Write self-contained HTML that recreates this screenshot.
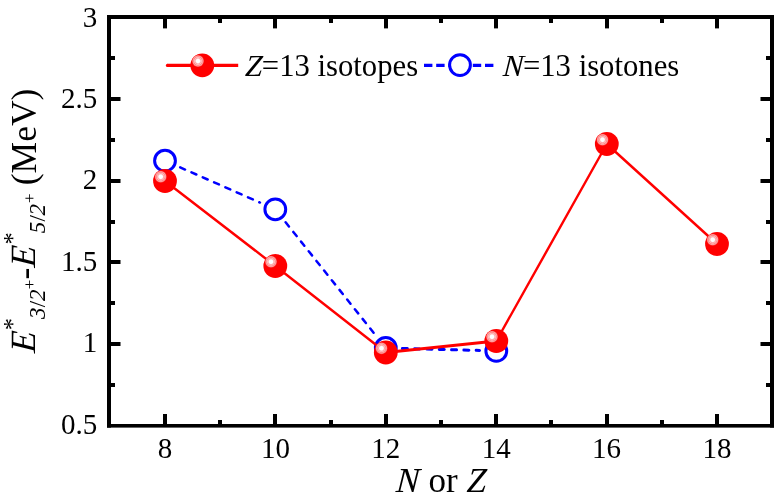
<!DOCTYPE html>
<html><head><meta charset="utf-8"><title>chart</title>
<style>html,body{margin:0;padding:0;background:#fff}body{width:780px;height:502px;overflow:hidden}svg{display:block}text{font-family:"Liberation Serif",serif;fill:#000}.i{font-style:italic}</style>
</head><body>
<svg width="780" height="502" viewBox="0 0 780 502">
<defs><radialGradient id="hl" cx="0.5" cy="0.5" r="0.5"><stop offset="0" stop-color="#fff"/><stop offset="0.3" stop-color="#fff"/><stop offset="0.4" stop-color="#ffd0d0"/><stop offset="0.5" stop-color="#ffa4a4"/><stop offset="0.6" stop-color="#ffbcbc"/><stop offset="0.72" stop-color="#ff8888"/><stop offset="0.82" stop-color="#ffa4a4"/><stop offset="0.92" stop-color="#ff6c6c"/><stop offset="1" stop-color="#ff3c3c"/></radialGradient></defs>
<rect width="780" height="502" fill="#fff"/>
<g fill="#000" shape-rendering="crispEdges">
<rect x="107" y="15" width="667" height="4"/>
</g>
<g fill="#000">
<rect x="107" y="15" width="4" height="412.6"/>
<rect x="770" y="15" width="4" height="412.6"/>
<rect x="107" y="424" width="667" height="3.6"/>
<rect x="163" y="19" width="4" height="9.4"/>
<rect x="163" y="414" width="4" height="10"/>
<rect x="218" y="19" width="4" height="4"/>
<rect x="218" y="420" width="4" height="4"/>
<rect x="273" y="19" width="4" height="9.4"/>
<rect x="273" y="414" width="4" height="10"/>
<rect x="329" y="19" width="4" height="4"/>
<rect x="329" y="420" width="4" height="4"/>
<rect x="384" y="19" width="4" height="9.4"/>
<rect x="384" y="414" width="4" height="10"/>
<rect x="439" y="19" width="4" height="4"/>
<rect x="439" y="420" width="4" height="4"/>
<rect x="494" y="19" width="4" height="9.4"/>
<rect x="494" y="414" width="4" height="10"/>
<rect x="549" y="19" width="4" height="4"/>
<rect x="549" y="420" width="4" height="4"/>
<rect x="605" y="19" width="4" height="9.4"/>
<rect x="605" y="414" width="4" height="10"/>
<rect x="660" y="19" width="4" height="4"/>
<rect x="660" y="420" width="4" height="4"/>
<rect x="715" y="19" width="4" height="9.4"/>
<rect x="715" y="414" width="4" height="10"/>
<rect x="111" y="383" width="4" height="4"/>
<rect x="766" y="383" width="4" height="4"/>
<rect x="111" y="342" width="9.5" height="4"/>
<rect x="760.5" y="342" width="9.5" height="4"/>
<rect x="111" y="301" width="4" height="4"/>
<rect x="766" y="301" width="4" height="4"/>
<rect x="111" y="260" width="9.5" height="4"/>
<rect x="760.5" y="260" width="9.5" height="4"/>
<rect x="111" y="220" width="4" height="4"/>
<rect x="766" y="220" width="4" height="4"/>
<rect x="111" y="179" width="9.5" height="4"/>
<rect x="760.5" y="179" width="9.5" height="4"/>
<rect x="111" y="138" width="4" height="4"/>
<rect x="766" y="138" width="4" height="4"/>
<rect x="111" y="97" width="9.5" height="4"/>
<rect x="760.5" y="97" width="9.5" height="4"/>
<rect x="111" y="56" width="4" height="4"/>
<rect x="766" y="56" width="4" height="4"/>
</g>
<g font-size="29">
<text x="165.0" y="458.1" text-anchor="middle">8</text>
<text x="275.4" y="458.1" text-anchor="middle">10</text>
<text x="385.8" y="458.1" text-anchor="middle">12</text>
<text x="496.2" y="458.1" text-anchor="middle">14</text>
<text x="606.6" y="458.1" text-anchor="middle">16</text>
<text x="717.0" y="458.1" text-anchor="middle">18</text>
<text x="97.3" y="26.5" text-anchor="end">3</text>
<text x="97.3" y="108" text-anchor="end">2.5</text>
<text x="97.3" y="189" text-anchor="end">2</text>
<text x="97.3" y="270.5" text-anchor="end">1.5</text>
<text x="97.3" y="352" text-anchor="end">1</text>
<text x="97.3" y="433.7" text-anchor="end">0.5</text>
</g>
<g font-size="35">
<text transform="translate(395.5,492) skewX(-4)" font-size="35" class="i">N</text>
<text x="428.5" y="492">or</text>
<text transform="translate(466.3,492) skewX(-4)" font-size="35" class="i">Z</text>
</g>
<text transform="translate(35.4,353.3) rotate(-90) skewX(-4)" font-size="35.5" class="i">E</text>
<text transform="translate(20.6,330.2) rotate(-90)" font-size="24.5">*</text>
<text transform="translate(45,319.0) rotate(-90)" font-size="23" class="i">3</text>
<text transform="translate(45,307.2) rotate(-90)" font-size="23">/</text>
<text transform="translate(45,301.0) rotate(-90)" font-size="23" class="i">2</text>
<text transform="translate(34.8,289.3) rotate(-90)" font-size="17">+</text>
<text transform="translate(35.5,279.5) rotate(-90)" font-size="35.5">-</text>
<text transform="translate(35.4,267.7) rotate(-90) skewX(-4)" font-size="35.5" class="i">E</text>
<text transform="translate(20.6,244.6) rotate(-90)" font-size="24.5">*</text>
<text transform="translate(45,233.2) rotate(-90)" font-size="23" class="i">5</text>
<text transform="translate(45,221.5) rotate(-90)" font-size="23">/</text>
<text transform="translate(45,215.4) rotate(-90)" font-size="23" class="i">2</text>
<text transform="translate(34.8,203.1) rotate(-90)" font-size="17">+</text>
<text transform="translate(35.5,185.2) rotate(-90)" font-size="35.5">(MeV)</text>
<g stroke="#0000ff" fill="none" stroke-linecap="round">
<line x1="180.19" y1="167.39" x2="259.93" y2="202.53" stroke-width="2.5" stroke-dasharray="5.3 7.05"/>
<line x1="285.64" y1="222.28" x2="375.33" y2="334.86" stroke-width="2.5" stroke-dasharray="5.3 7.05"/>
<line x1="402.39" y1="348.44" x2="479.51" y2="350.46" stroke-width="3.0" stroke-dasharray="5.0 7.3"/>
</g>
<g stroke="#0000ff" stroke-width="3" fill="#fff">
<circle cx="165" cy="160.7" r="10.4"/>
<circle cx="275.3" cy="209.3" r="10.4"/>
<circle cx="385.8" cy="348" r="10.4"/>
<circle cx="496.3" cy="350.9" r="10.4"/>
</g>
<g stroke="#ff0000" fill="none" stroke-linecap="round">
<line x1="165" y1="181" x2="275.3" y2="266" stroke-width="2.4"/>
<line x1="275.3" y1="266" x2="385.8" y2="352.5" stroke-width="2.4"/>
<line x1="385.8" y1="352.5" x2="496.3" y2="341" stroke-width="2.9"/>
<line x1="496.3" y1="341" x2="606.8" y2="144" stroke-width="2.4"/>
<line x1="606.8" y1="144" x2="717" y2="244" stroke-width="2.4"/>
</g>
<circle cx="165" cy="181" r="11.9" fill="#ff0000"/>
<circle cx="160.7" cy="176.7" r="6" fill="url(#hl)"/>
<circle cx="275.3" cy="266" r="11.9" fill="#ff0000"/>
<circle cx="271.0" cy="261.7" r="6" fill="url(#hl)"/>
<circle cx="385.8" cy="352.5" r="11.9" fill="#ff0000"/>
<circle cx="381.5" cy="348.2" r="6" fill="url(#hl)"/>
<circle cx="496.3" cy="341" r="11.9" fill="#ff0000"/>
<circle cx="492.0" cy="336.7" r="6" fill="url(#hl)"/>
<circle cx="606.8" cy="144" r="11.9" fill="#ff0000"/>
<circle cx="602.5" cy="139.7" r="6" fill="url(#hl)"/>
<circle cx="717" cy="244" r="11.9" fill="#ff0000"/>
<circle cx="712.7" cy="239.7" r="6" fill="url(#hl)"/>
<line x1="167.3" y1="65.4" x2="238.2" y2="65.4" stroke="#ff0000" stroke-width="3.1"/>
<circle cx="167.4" cy="65.4" r="1.55" fill="#ff0000"/>
<circle cx="202.3" cy="65.3" r="11.9" fill="#ff0000"/>
<circle cx="198.0" cy="61.0" r="6" fill="url(#hl)"/>
<g font-size="30.7">
<text transform="translate(244.8,75.7) skewX(-4)" font-size="30.7" class="i">Z</text>
<text x="261.87" y="75.7">=13 isotopes</text>
<line x1="424" y1="65.4" x2="493.4" y2="65.4" stroke="#0000ff" stroke-width="3.1" stroke-dasharray="8.4 3.8"/>
<circle cx="460" cy="65.1" r="10.4" fill="#fff" stroke="#0000ff" stroke-width="3"/>
<text transform="translate(502.5,75.7) skewX(-4)" font-size="30.7" class="i">N</text>
<text x="522.98" y="75.7">=13 isotones</text>
</g>
</svg></body></html>
